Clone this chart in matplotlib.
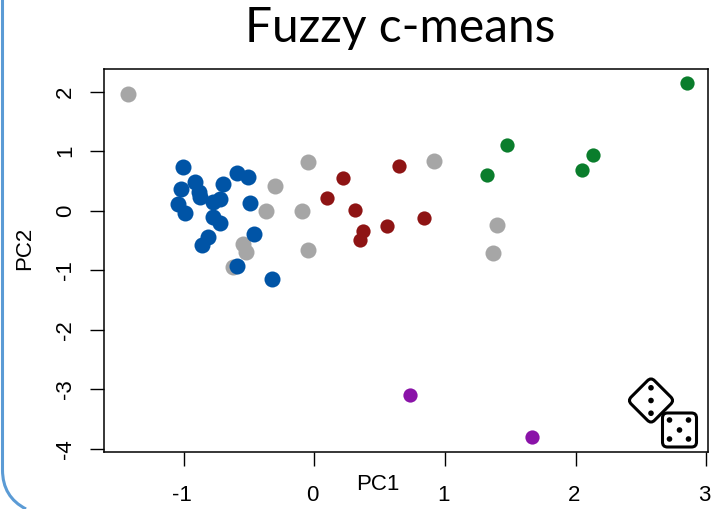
"""Fuzzy c-means scatter of PC1 / PC2 with cluster colours and dice icons."""
import matplotlib
matplotlib.use("Agg")
import matplotlib.pyplot as plt
from matplotlib.patches import Circle, FancyBboxPatch, PathPatch
from matplotlib.path import Path
from matplotlib.transforms import Affine2D

W, H = 719, 509

gray_x = [-1.427, -0.05, 0.915, -0.30, -0.37, -0.095, -0.05, -0.547, -0.524, -0.624, 1.397, 1.366]
gray_y = [1.96, 0.82, 0.835, 0.415, 0.0, 0.0, -0.66, -0.56, -0.69, -0.945, -0.24, -0.71]
blue_x = [-1.006, -1.022, -0.915, -0.884, -0.876, -0.703, -0.723, -0.774, -1.047, -0.991,
          -0.494, -0.591, -0.511, -0.774, -0.723, -0.817, -0.863, -0.465, -0.595, -0.325]
blue_y = [0.73, 0.365, 0.48, 0.31, 0.23, 0.444, 0.2, 0.146, 0.118, -0.034,
          0.134, 0.63, 0.566, -0.11, -0.21, -0.437, -0.576, -0.39, -0.924, -1.143]
red_x = [0.218, 0.096, 0.31, 0.371, 0.348, 0.555, 0.838, 0.647]
red_y = [0.55, 0.213, 0.012, -0.34, -0.49, -0.257, -0.123, 0.75]
green_x = [1.32, 1.473, 2.047, 2.131, 2.851]
green_y = [0.6, 1.104, 0.684, 0.936, 2.146]
purple_x = [0.731, 1.664]
purple_y = [-3.098, -3.803]

x_ticks = [-1, 0, 1, 2, 3]
y_ticks = [-4, -3, -2, -1, 0, 1, 2]

fig = plt.figure(figsize=(W / 100, H / 100), dpi=100)
ax = fig.add_axes([104 / W, 1 - 451.7 / H, (707.5 - 104) / W, (451.7 - 69) / H])
ax.set_xlim(-1.611, 3.008)
ax.set_ylim(-4.05, 2.38)

ax.scatter(gray_x, gray_y, s=133, color="#a6a6a6", linewidths=0, zorder=2)
ax.scatter(blue_x, blue_y, s=133, color="#0054a6", linewidths=0, zorder=3)
ax.scatter(red_x, red_y, s=105, color="#8e1414", linewidths=0, zorder=3)
ax.scatter(green_x, green_y, s=105, color="#0a7d2c", linewidths=0, zorder=3)
ax.scatter(purple_x, purple_y, s=105, color="#8a13a8", linewidths=0, zorder=3)

ax.set_xticks(x_ticks)
ax.set_xticklabels([str(t) for t in x_ticks])
ax.set_yticks(y_ticks)
ax.set_yticklabels([str(t) for t in y_ticks], rotation=90, va="center")
ax.tick_params(length=10, width=1, labelsize=16, pad=14)
ax.tick_params(axis="y", pad=10)
for lab in ax.get_xticklabels() + ax.get_yticklabels():
    lab.set_fontfamily("Liberation Sans")
# x labels sit slightly left of their ticks in the original
for lab in ax.get_xticklabels():
    lab.set_transform(lab.get_transform() + Affine2D().translate(-2, 0))
for s in ax.spines.values():
    s.set_linewidth(1.1)

# axis names sit in odd spots (PC1 between the tick labels), so place by pixel
fig.text(378 / W, 1 - 484 / H, "PC1", ha="center", va="center", fontsize=16, family="Liberation Sans")
fig.text(25 / W, 1 - 248 / H, "PC2", ha="center", va="center", rotation=90, fontsize=16, family="Liberation Sans")
fig.text(400 / W, 1 - 28 / H, "Fuzzy c-means", ha="center", va="center", fontsize=34.5, family="Lato")

# slide-frame outline on the left, rounded into the bottom edge
px = Affine2D().scale(1, -1).translate(0, H)
frame = Path([(2.5, 0), (2.5, 470), (2.5, 497), (26, 509)],
             [Path.MOVETO, Path.LINETO, Path.CURVE3, Path.CURVE3])
fig.add_artist(PathPatch(frame, fill=False, edgecolor="#5b9bd5", lw=2.2, transform=px))


def die(cx, cy, half, pips, angle=0):
    rot = Affine2D().rotate_deg_around(cx, cy, angle) + px
    body = FancyBboxPatch((cx - half + 4, cy - half + 4), 2 * half - 8, 2 * half - 8,
                          boxstyle="round,pad=4,rounding_size=5", fc="white", ec="black",
                          lw=2.2, transform=rot, zorder=5)
    fig.add_artist(body)
    for dx, dy in pips:
        fig.add_artist(Circle((cx + dx, cy + dy), 2.8, fc="black", ec="none", transform=rot, zorder=6))


die(651, 400.5, 16.5, [(-9, -9), (0, 0), (9, 9)], angle=45)
die(679.5, 430, 17, [(-10, -10), (9, -10), (0, 0), (-10, 9), (9, 9)])

fig.savefig("out.png", dpi=100)
